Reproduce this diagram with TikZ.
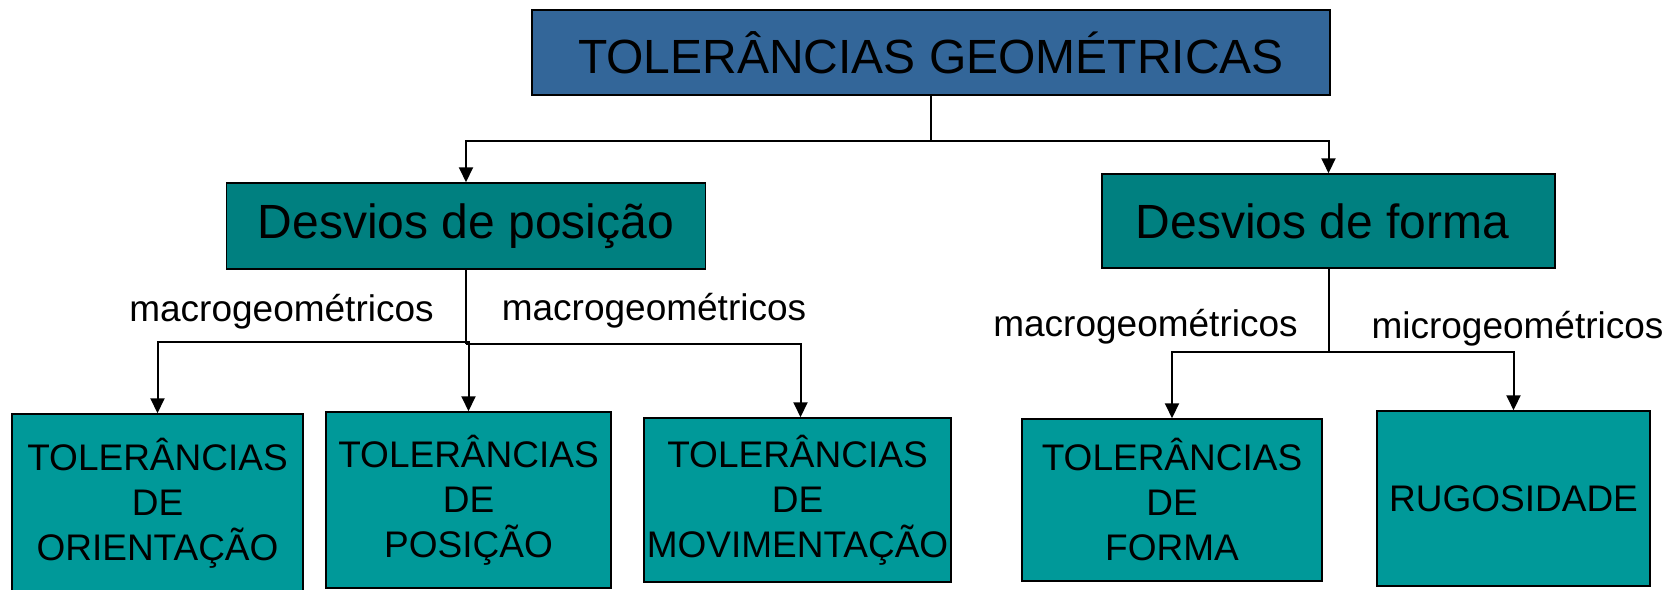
\documentclass[tikz,border=0pt]{standalone}
\usepackage{fontspec}
\setmainfont{Liberation Sans}
\usetikzlibrary{arrows.meta}
\definecolor{topblue}{RGB}{51,102,153}
\definecolor{midteal}{RGB}{0,128,128}
\definecolor{leafteal}{RGB}{0,153,153}
\begin{document}
\begin{tikzpicture}[x=1pt,y=-1pt,
  box/.style={draw=black, line width=1.5pt, inner sep=0pt, align=center},
  topbox/.style={box, fill=topblue, font=\fontsize{48}{58}\selectfont},
  midbox/.style={box, fill=midteal, font=\fontsize{48}{58}\selectfont},
  leafbox/.style={box, fill=leafteal, font=\fontsize{37}{45}\selectfont},
  lbl/.style={font=\fontsize{37}{45}\selectfont, inner sep=0pt, anchor=base},
  conn/.style={line width=2pt, -{Triangle[width=14pt,length=15pt]}},
  plainline/.style={line width=2pt}]
\useasboundingbox (0,0) rectangle (1675,589);
\clip (0,0) rectangle (1675,589);
% boxes
\node[topbox, minimum width=798pt, minimum height=85pt] (top) at (931,52.5) {TOLERÂNCIAS GEOMÉTRICAS};
\node[midbox, minimum width=479pt, minimum height=86pt] (dp) at (466,226) {Desvios de posição};
\node[midbox, minimum width=453pt, minimum height=94pt] (df) at (1328.5,221) {Desvios de forma\hspace*{12pt}};
\node[leafbox, minimum width=291pt, minimum height=179pt] (orient) at (157.5,503.5) {TOLERÂNCIAS\\DE\\ORIENTAÇÃO};
\node[leafbox, minimum width=285pt, minimum height=176pt] (pos) at (468.5,500) {TOLERÂNCIAS\\DE\\POSIÇÃO};
\node[leafbox, minimum width=307pt, minimum height=164pt] (mov) at (797.5,500) {TOLERÂNCIAS\\DE\\MOVIMENTAÇÃO};
\node[leafbox, minimum width=300pt, minimum height=162pt] (forma) at (1172,500) {TOLERÂNCIAS\\DE\\FORMA};
\node[leafbox, minimum width=273pt, minimum height=175pt] (rug) at (1513.5,498.5) {RUGOSIDADE};
% labels
\node[lbl] (l1) at (281.5,321) {macrogeométricos};
\node[lbl] (l2) at (654,320) {macrogeométricos};
\node[lbl] (l3) at (1145.5,336) {macrogeométricos};
\node[lbl] (l4) at (1517.5,338) {microgeométricos};
% connectors
\coordinate (j1) at (top.south |- 0,141);
\draw[plainline] (top.south) -- (j1);
\draw[conn] (j1) -| (dp.north);
\draw[conn] (j1) -| (df.north);
\coordinate (j2) at (dp.south |- 0,342);
\coordinate (j2b) at (dp.south |- 0,344);
\draw[plainline] (dp.south) -- (j2b);
\draw[conn] (j2) -| (orient.north);
\draw[conn] (j2) -| (pos.north);
\draw[conn] (j2b) -| ([xshift=3pt]mov.north);
\coordinate (j3) at (df.south |- 0,352);
\draw[plainline] (df.south) -- (j3);
\draw[conn] (j3) -| (forma.north);
\draw[conn] (j3) -| (rug.north);
\end{tikzpicture}
\end{document}
